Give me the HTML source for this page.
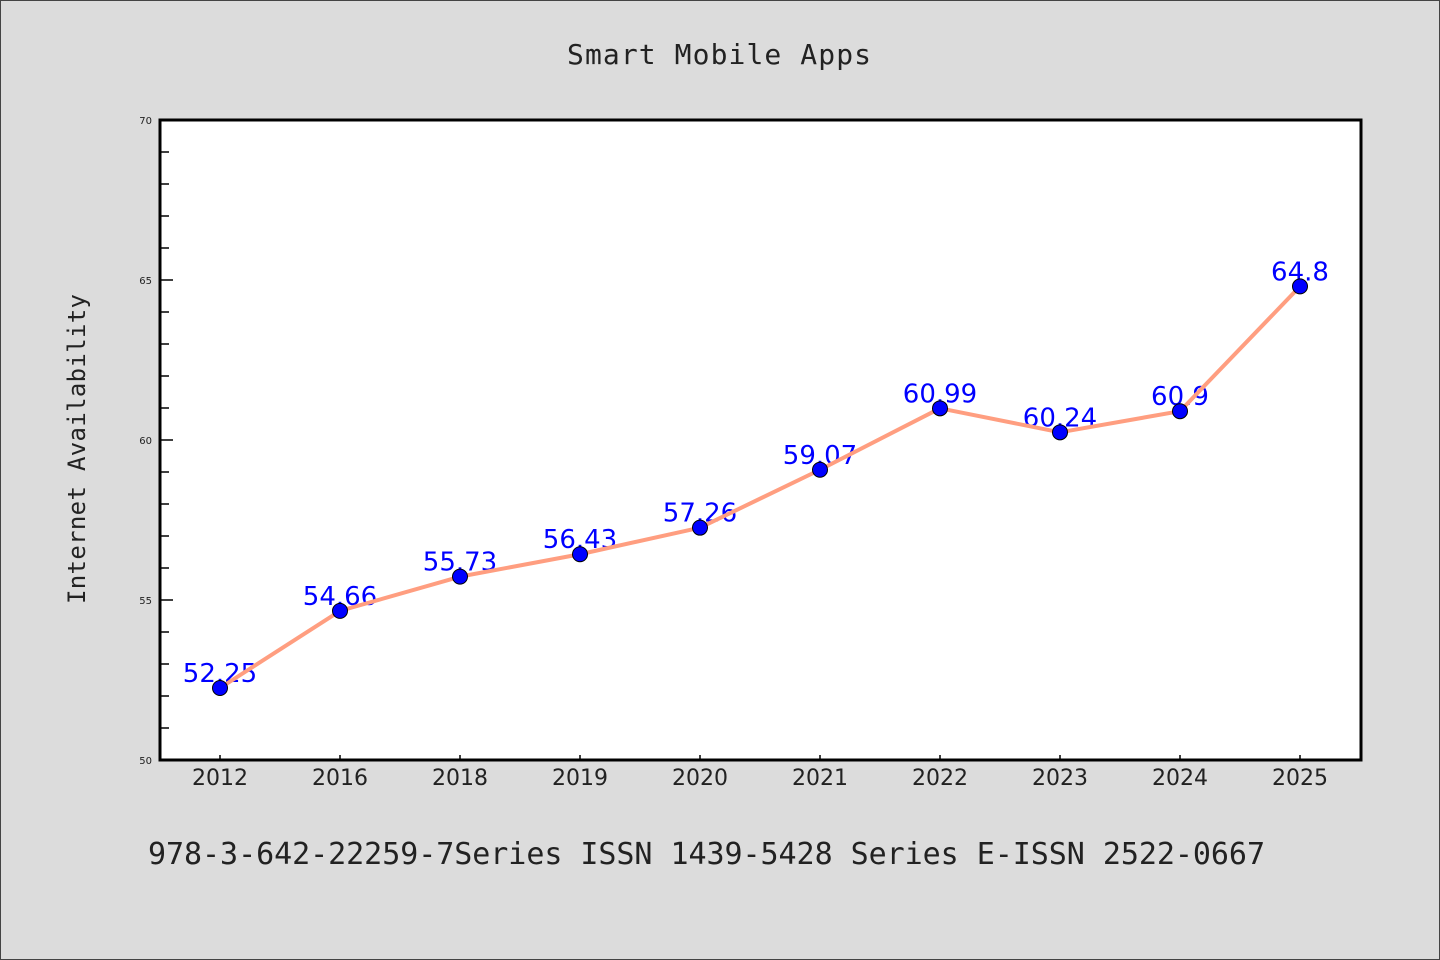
<!DOCTYPE html>
<html><head><meta charset="utf-8"><style>body{margin:0;background:#dcdcdc}svg{display:block}</style></head>
<body>
<svg width="1440" height="960" xmlns="http://www.w3.org/2000/svg" id="c" font-family="'DejaVu Sans Mono','Liberation Mono',monospace">
<rect x="0.5" y="0.5" width="1439" height="959" fill="#dcdcdc" stroke="#444"/>
<text x="719" y="64" text-anchor="middle" font-size="28" textLength="304" fill="#222">Smart Mobile Apps</text>
<text transform="translate(85,449) rotate(-90)" text-anchor="middle" font-size="24" textLength="310" fill="#222">Internet Availability</text>
<text x="148" y="864" font-size="30" textLength="1117" fill="#222">978-3-642-22259-7Series ISSN 1439-5428 Series E-ISSN 2522-0667</text>
<rect x="160" y="120" width="1201" height="640" fill="#fff"/>
<g id="g"></g>
<rect x="160" y="120" width="1201" height="640" fill="none" stroke="#000" stroke-width="3"/>
</svg>
<script>
const categories=["2012","2016","2018","2019","2020","2021","2022","2023","2024","2025"];
const values=[52.25,54.66,55.73,56.43,57.26,59.07,60.99,60.24,60.9,64.8];
const yTicks=[50,55,60,65,70];
(function(){
const NS="http://www.w3.org/2000/svg";
const g=document.getElementById('g');
const yMin=50,yMax=70,yTop=120,yBot=760;
const y=v=>yBot-(v-yMin)/(yMax-yMin)*(yBot-yTop);
const x=i=>220+i*120;
function mk(t,a){const e=document.createElementNS(NS,t);for(const k in a)e.setAttribute(k,a[k]);g.appendChild(e);return e;}
for(let v=yMin;v<=yMax;v++){
  const major=yTicks.includes(v);
  const l=mk('line',{x1:160,x2:160+(major?13:9),y1:y(v),y2:y(v),stroke:'#000','stroke-width':1.5});
  
  
}
yTicks.forEach(v=>{
  const t=mk('text',{x:152,y:y(v)+4,'text-anchor':'end','font-size':10,fill:'#222','font-family':'DejaVu Sans,sans-serif'});
  t.textContent=v;
  
  
});
categories.forEach((c,i)=>{
  const l=mk('line',{x1:x(i),x2:x(i),y1:yBot,y2:yBot-5,stroke:'#000','stroke-width':1.5});
  
  
  const t=mk('text',{x:x(i),y:yBot+25,'text-anchor':'middle','font-size':22,fill:'#222','font-family':'DejaVu Sans,sans-serif'});
  t.textContent=c;
  
  
});
values.forEach((v,i)=>{
  const t=mk('text',{x:x(i),y:y(v)-6,'text-anchor':'middle','font-size':26,fill:'#0000ff','font-family':'DejaVu Sans,sans-serif'});
  t.textContent=v;
  
  
});
const p=mk('polyline',{points:values.map((v,i)=>x(i)+','+y(v)).join(' '),fill:'none',stroke:'#ff9e80','stroke-width':4,'stroke-linejoin':'round'});


values.forEach((v,i)=>{
  const c=mk('circle',{cx:x(i),cy:y(v),r:7.5,fill:'#0000ff',stroke:'#000','stroke-width':1});
  
  
});
})();
</script>
</body></html>
